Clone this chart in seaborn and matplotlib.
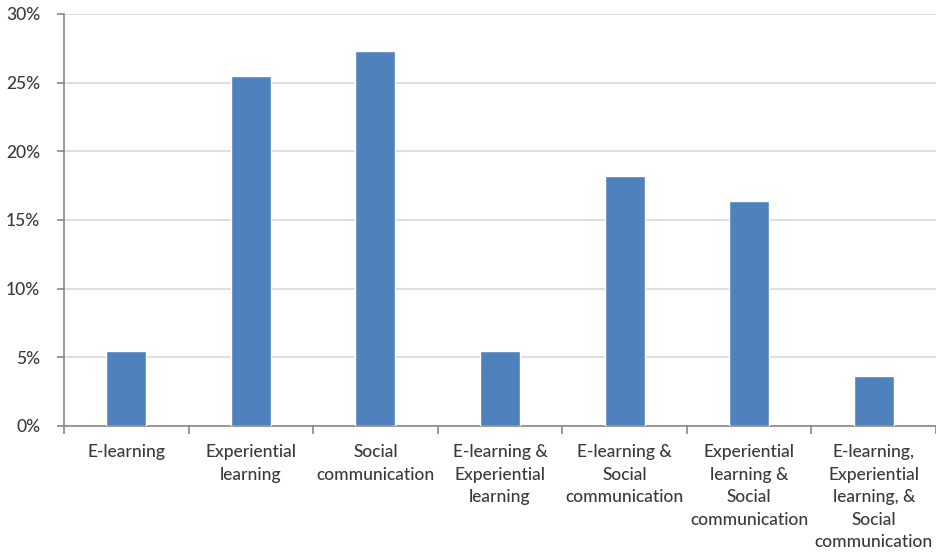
import matplotlib
matplotlib.use("Agg")
import matplotlib.pyplot as plt
from matplotlib.ticker import FixedLocator, PercentFormatter
import seaborn as sns
import pandas as pd
import numpy as np

categories = [
    "E-learning",
    "Experiential\nlearning",
    "Social\ncommunication",
    "E-learning &\nExperiential\nlearning",
    "E-learning &\nSocial\ncommunication",
    "Experiential\nlearning &\nSocial\ncommunication",
    "E-learning,\nExperiential\nlearning, &\nSocial\ncommunication",
]
shares = [5.45, 25.45, 27.27, 5.45, 18.18, 16.36, 3.64]
y_ticks = [0, 5, 10, 15, 20, 25, 30]

sns.set_theme(style="white")
plt.rcParams["font.family"] = ["Lato", "DejaVu Sans"]

df = pd.DataFrame({"category": categories, "share": shares})

fig = plt.figure(figsize=(9.37, 5.54), dpi=100)
ax = fig.add_axes([64 / 937, 1 - 426 / 554, (936 - 64) / 937, (426 - 14) / 554])

sns.barplot(data=df, x="category", y="share", color="#4F81BD", saturation=1,
            width=0.32, ax=ax, zorder=3)

ax.set_ylim(0, 30)
ax.set_xlim(-0.5, len(categories) - 0.5)
ax.yaxis.set_major_locator(FixedLocator(y_ticks))
ax.yaxis.set_major_formatter(PercentFormatter(decimals=0))
ax.grid(axis="y", color="#d9d9d9", linewidth=1.2, zorder=0)
ax.set_xlabel("")
ax.set_ylabel("")

for side in ("top", "right"):
    ax.spines[side].set_visible(False)
for side in ("left", "bottom"):
    ax.spines[side].set_color("#878787")
    ax.spines[side].set_linewidth(1.2)

ax.tick_params(axis="y", which="major", left=True, length=5, width=1.2,
               color="#878787", labelsize=12.5, labelcolor="#3a3a3a", pad=12)
ax.tick_params(axis="x", which="major", bottom=False, labelsize=12.5,
               labelcolor="#3a3a3a", pad=7)
ax.xaxis.set_minor_locator(FixedLocator(np.arange(len(categories) + 1) - 0.5))
ax.tick_params(axis="x", which="minor", bottom=True, length=6, width=1.2,
               color="#878787")
for lbl in ax.get_xticklabels() + ax.get_yticklabels():
    lbl.set_fontweight("medium")
for lbl in ax.get_xticklabels():
    lbl.set_linespacing(1.5)
    lbl.set_verticalalignment("top")

fig.savefig("out.png", dpi=100, facecolor="white")
